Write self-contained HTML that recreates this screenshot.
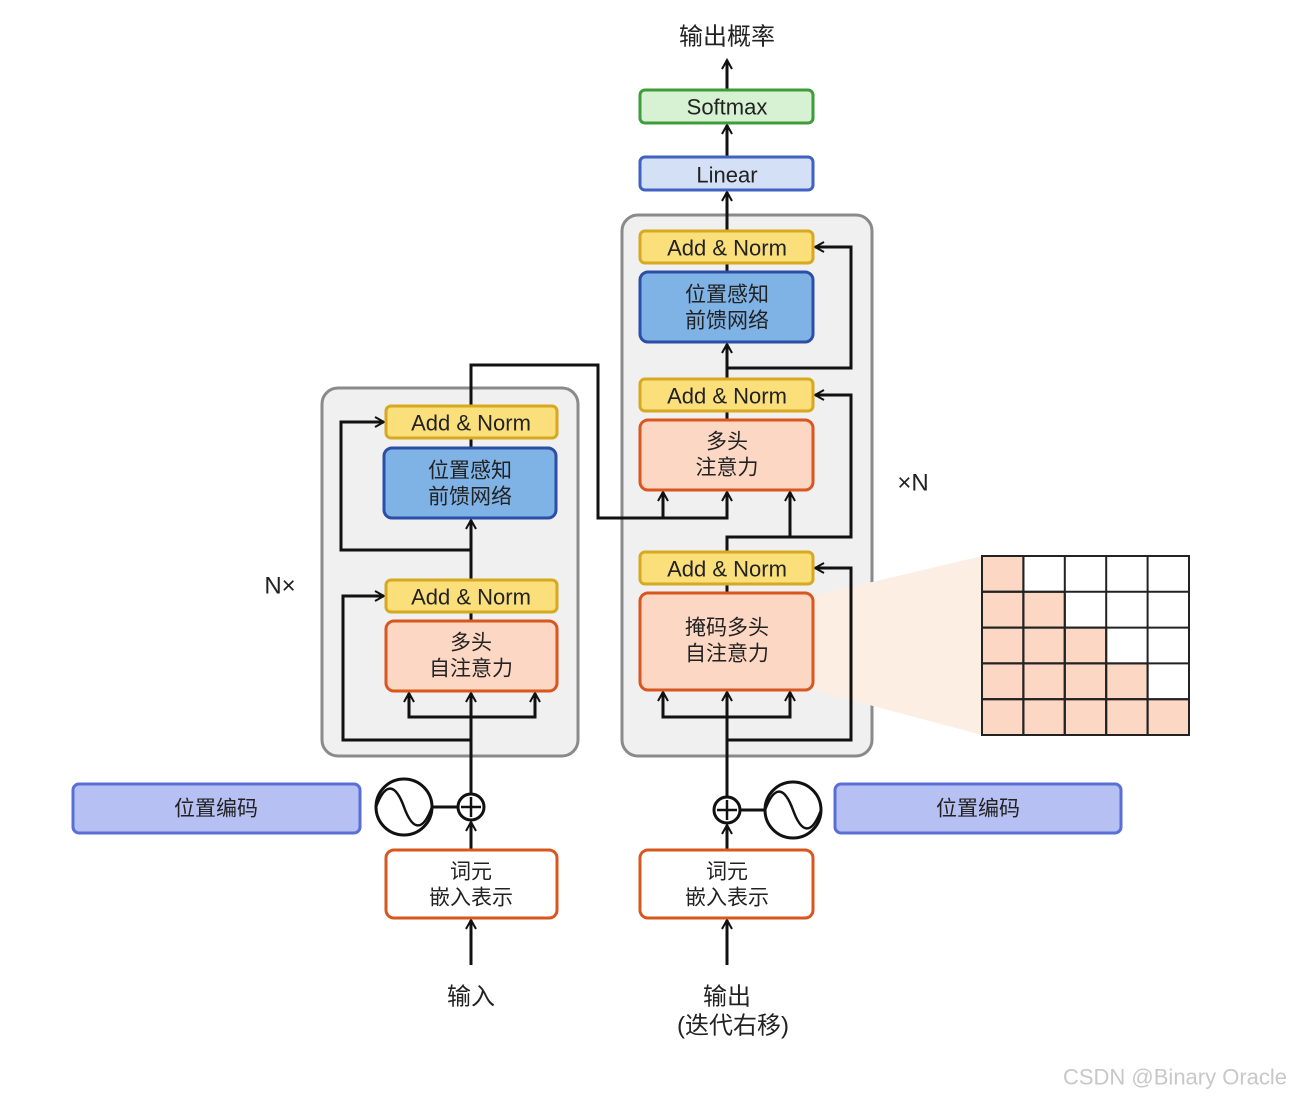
<!DOCTYPE html>
<html><head><meta charset="utf-8"><style>
body{margin:0;background:#fff;}
text{font-family:"Liberation Sans","Noto Sans CJK SC",sans-serif;fill:#222;text-anchor:middle;dominant-baseline:central;}
</style></head><body>
<svg width="1300" height="1098" viewBox="0 0 1300 1098" xmlns="http://www.w3.org/2000/svg">
<defs>
<marker id="a" markerWidth="12" markerHeight="12" refX="10" refY="6" orient="auto" markerUnits="userSpaceOnUse">
<path d="M1,1 L10,6 L1,11" fill="none" stroke="#111" stroke-width="2"/></marker>
</defs>
<!-- containers -->
<rect x="322" y="388" width="256" height="368" rx="16" fill="#f0f0f0" stroke="#8a8a8a" stroke-width="3"/>
<rect x="622" y="215" width="250" height="541" rx="16" fill="#f0f0f0" stroke="#8a8a8a" stroke-width="3"/>
<!-- mask trapezoid -->
<polygon points="813,596 982,556 982,735 813,690" fill="#fdeee4"/>
<!-- grid -->
<g stroke="#222" stroke-width="2">
<g fill="#fcd7c3">
<rect x="982" y="556" width="41.4" height="35.8"/>
<rect x="982" y="591.8" width="41.4" height="35.8"/><rect x="1023.4" y="591.8" width="41.4" height="35.8"/>
<rect x="982" y="627.6" width="41.4" height="35.8"/><rect x="1023.4" y="627.6" width="41.4" height="35.8"/><rect x="1064.8" y="627.6" width="41.4" height="35.8"/>
<rect x="982" y="663.4" width="41.4" height="35.8"/><rect x="1023.4" y="663.4" width="41.4" height="35.8"/><rect x="1064.8" y="663.4" width="41.4" height="35.8"/><rect x="1106.2" y="663.4" width="41.4" height="35.8"/>
<rect x="982" y="699.2" width="41.4" height="35.8"/><rect x="1023.4" y="699.2" width="41.4" height="35.8"/><rect x="1064.8" y="699.2" width="41.4" height="35.8"/><rect x="1106.2" y="699.2" width="41.4" height="35.8"/><rect x="1147.6" y="699.2" width="41.4" height="35.8"/>
</g>
<rect x="982" y="556" width="207" height="179" fill="none"/>
<path d="M1023.4,556V735M1064.8,556V735M1106.2,556V735M1147.6,556V735M982,591.8H1189M982,627.6H1189M982,663.4H1189M982,699.2H1189" fill="none"/>
</g>
<!-- connectors -->
<g stroke="#111" stroke-width="3" fill="none">
<!-- left encoder -->
<line x1="471" y1="820" x2="471" y2="693" marker-end="url(#a)"/>
<path d="M471,717 H409 V693" marker-end="url(#a)"/>
<path d="M471,717 H535 V693" marker-end="url(#a)"/>
<path d="M471,740 H343 V596 H384" marker-end="url(#a)"/>
<line x1="471" y1="621" x2="471" y2="612"/>
<line x1="471" y1="580" x2="471" y2="520" marker-end="url(#a)"/>
<path d="M471,550 H341 V422 H384" marker-end="url(#a)"/>
<line x1="471" y1="448" x2="471" y2="438"/>
<path d="M471,406 V365 H598 V518 H727 V492" marker-end="url(#a)"/>
<line x1="663" y1="518" x2="663" y2="492" marker-end="url(#a)"/>
<!-- right decoder -->
<line x1="727" y1="823" x2="727" y2="692" marker-end="url(#a)"/>
<path d="M727,717 H663 V692" marker-end="url(#a)"/>
<path d="M727,717 H790 V692" marker-end="url(#a)"/>
<path d="M727,740 H851 V568 H815" marker-end="url(#a)"/>
<line x1="727" y1="593" x2="727" y2="584"/>
<path d="M727,552 V537 H851 V395 H815" marker-end="url(#a)"/>
<path d="M790,537 V492" marker-end="url(#a)"/>
<line x1="727" y1="420" x2="727" y2="411"/>
<line x1="727" y1="379" x2="727" y2="344" marker-end="url(#a)"/>
<path d="M727,368 H851 V247 H815" marker-end="url(#a)"/>
<line x1="727" y1="272" x2="727" y2="263"/>
<line x1="727" y1="231" x2="727" y2="192" marker-end="url(#a)"/>
<line x1="727" y1="157" x2="727" y2="125" marker-end="url(#a)"/>
<line x1="727" y1="90" x2="727" y2="60" marker-end="url(#a)"/>
<!-- bottom inputs -->
<line x1="471" y1="965" x2="471" y2="920" marker-end="url(#a)"/>
<line x1="727" y1="965" x2="727" y2="920" marker-end="url(#a)"/>
<line x1="471" y1="850" x2="471" y2="822" marker-end="url(#a)"/>
<line x1="727" y1="850" x2="727" y2="825" marker-end="url(#a)"/>
<line x1="432" y1="807" x2="458" y2="807"/>
<line x1="740" y1="810" x2="765" y2="810"/>
</g>
<!-- sine / plus -->
<g stroke="#111" stroke-width="3" fill="#fff">
<circle cx="404" cy="807" r="28"/>
<circle cx="793" cy="810" r="28"/>
<circle cx="471" cy="807" r="13"/>
<circle cx="727" cy="810" r="13"/>
</g>
<g stroke="#111" stroke-width="2.5" fill="none">
<path d="M376,807 C386,780 396,785 404,807 C412,829 422,834 432,807"/>
<path d="M765,810 C775,783 785,788 793,810 C801,832 811,837 821,810"/>
<path d="M471,797V817M461,807H481M727,800V820M717,810H737"/>
</g>
<!-- boxes -->
<g stroke-width="3">
<rect x="386" y="406" width="171" height="32" rx="5" fill="#fbdf7a" stroke="#d6a920"/>
<rect x="384" y="448" width="172" height="70" rx="8" fill="#7fb2e5" stroke="#2c4ea6"/>
<rect x="386" y="580" width="171" height="32" rx="5" fill="#fbdf7a" stroke="#d6a920"/>
<rect x="386" y="621" width="171" height="70" rx="8" fill="#fcd7c3" stroke="#d9561f"/>
<rect x="640" y="231" width="173" height="32" rx="5" fill="#fbdf7a" stroke="#d6a920"/>
<rect x="640" y="272" width="173" height="70" rx="8" fill="#7fb2e5" stroke="#2c4ea6"/>
<rect x="640" y="379" width="173" height="32" rx="5" fill="#fbdf7a" stroke="#d6a920"/>
<rect x="640" y="420" width="173" height="70" rx="8" fill="#fcd7c3" stroke="#d9561f"/>
<rect x="640" y="552" width="173" height="32" rx="5" fill="#fbdf7a" stroke="#d6a920"/>
<rect x="640" y="593" width="173" height="97" rx="8" fill="#fcd7c3" stroke="#d9561f"/>
<rect x="640" y="157" width="173" height="33" rx="5" fill="#d4e0f5" stroke="#3f62c4"/>
<rect x="640" y="90" width="173" height="33" rx="5" fill="#d6f2d3" stroke="#3f9c3a"/>
<rect x="73" y="784" width="287" height="49" rx="6" fill="#b7c0f2" stroke="#5a6fd6"/>
<rect x="835" y="784" width="286" height="49" rx="6" fill="#b7c0f2" stroke="#5a6fd6"/>
<rect x="386" y="850" width="171" height="68" rx="8" fill="#fff" stroke="#d9561f"/>
<rect x="640" y="850" width="173" height="68" rx="8" fill="#fff" stroke="#d9561f"/>
</g>
<!-- text -->
<g font-size="22">
<text x="471" y="423">Add &amp; Norm</text>
<text x="471" y="597">Add &amp; Norm</text>
<text x="727" y="248">Add &amp; Norm</text>
<text x="727" y="396">Add &amp; Norm</text>
<text x="727" y="569">Add &amp; Norm</text>
<text x="727" y="175">Linear</text>
<text x="727" y="107">Softmax</text>
</g>
<g font-size="21">
<text x="470" y="471">位置感知</text><text x="470" y="497">前馈网络</text>
<text x="471" y="643">多头</text><text x="471" y="669">自注意力</text>
<text x="727" y="295">位置感知</text><text x="727" y="321">前馈网络</text>
<text x="727" y="442">多头</text><text x="727" y="468">注意力</text>
<text x="727" y="628">掩码多头</text><text x="727" y="654">自注意力</text>
<text x="216" y="809">位置编码</text><text x="978" y="809">位置编码</text>
<text x="471" y="872">词元</text><text x="471" y="898">嵌入表示</text>
<text x="727" y="872">词元</text><text x="727" y="898">嵌入表示</text>
</g>
<g font-size="24">
<text x="727" y="37">输出概率</text>
<text x="471" y="997">输入</text>
<text x="727" y="997">输出</text>
<text x="733" y="1026">(迭代右移)</text>
<text x="280" y="586">N×</text>
<text x="913" y="483">×N</text>
</g>
<text x="1175" y="1077" font-size="22" style="fill:#c8c8c8">CSDN @Binary Oracle</text>
</svg>
</body></html>
